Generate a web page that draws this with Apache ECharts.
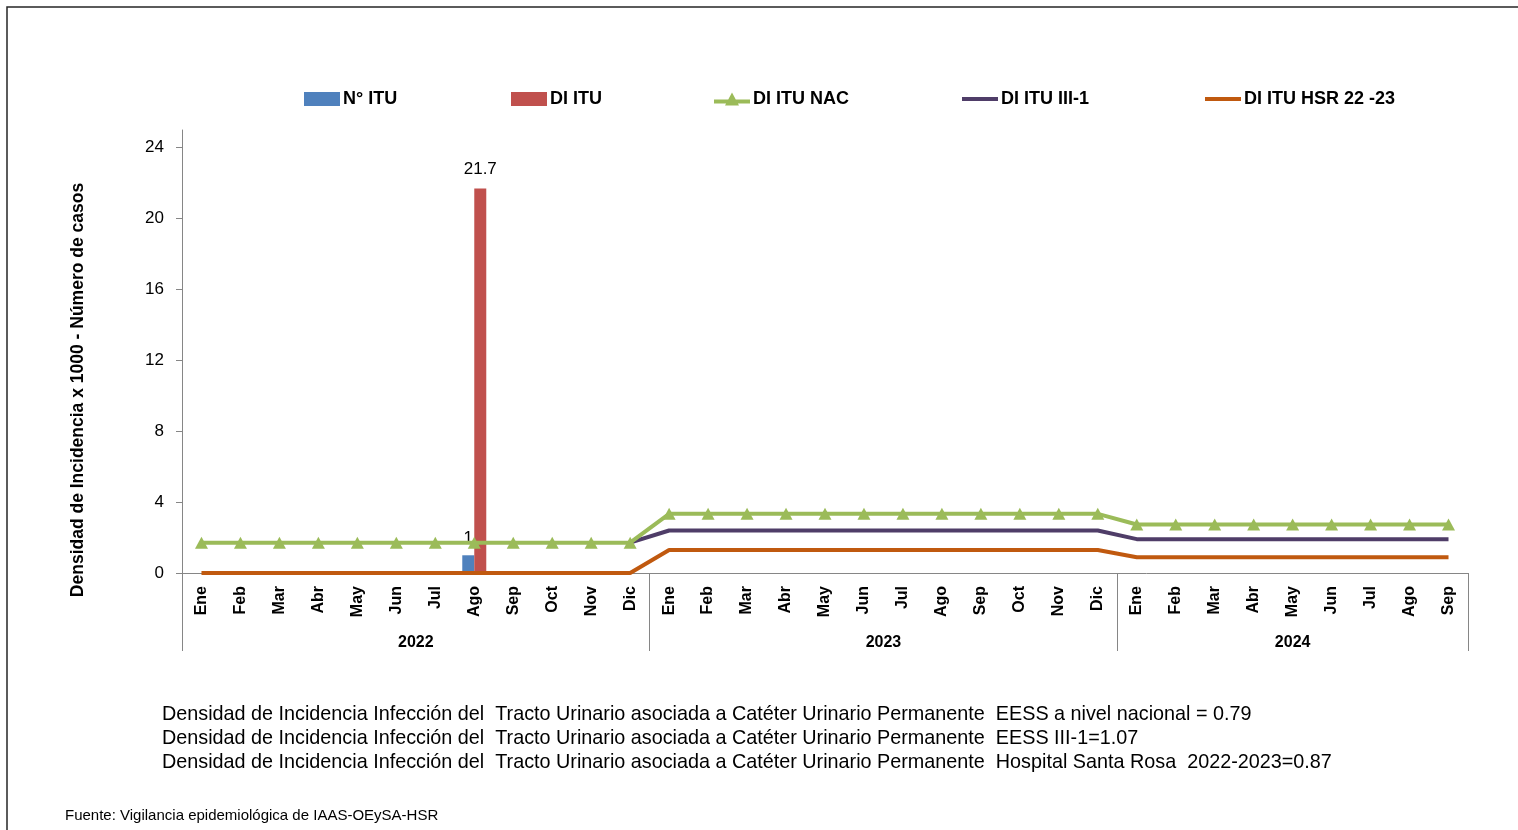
<!DOCTYPE html>
<html>
<head>
<meta charset="utf-8">
<script src="https://cdn.jsdelivr.net/npm/echarts@6/dist/echarts.min.js"></script>
<style>
  html, body { margin: 0; padding: 0; background: #fff; }
  #chart { width: 1518px; height: 830px; }
</style>
</head>
<body>
<div id="chart"></div>
<script>
// ---- data ----
const months2022 = ['Ene','Feb','Mar','Abr','May','Jun','Jul','Ago','Sep','Oct','Nov','Dic'];
const months2023 = ['Ene','Feb','Mar','Abr','May','Jun','Jul','Ago','Sep','Oct','Nov','Dic'];
const months2024 = ['Ene','Feb','Mar','Abr','May','Jun','Jul','Ago','Sep'];
const years = ['2022','2023','2024'];
const yTicks = [0, 4, 8, 12, 16, 20, 24];

const nItu = [0,0,0,0,0,0,0,1,0,0,0,0,  0,0,0,0,0,0,0,0,0,0,0,0,  0,0,0,0,0,0,0,0,0];
const diItu = [0,0,0,0,0,0,0,21.7,0,0,0,0,  0,0,0,0,0,0,0,0,0,0,0,0,  0,0,0,0,0,0,0,0,0];
const diItuNac = [1.71,1.71,1.71,1.71,1.71,1.71,1.71,1.71,1.71,1.71,1.71,1.71,
                  3.34,3.34,3.34,3.34,3.34,3.34,3.34,3.34,3.34,3.34,3.34,3.34,
                  2.74,2.74,2.74,2.74,2.74,2.74,2.74,2.74,2.74];
const diItuIII1 = [null,null,null,null,null,null,null,null,null,null,null,1.71,
                   2.40,2.40,2.40,2.40,2.40,2.40,2.40,2.40,2.40,2.40,2.40,2.40,
                   1.91,1.91,1.91,1.91,1.91,1.91,1.91,1.91,1.91];
const diItuHsr = [0,0,0,0,0,0,0,0,0,0,0,0,
                  1.30,1.30,1.30,1.30,1.30,1.30,1.30,1.30,1.30,1.30,1.30,1.30,
                  0.89,0.89,0.89,0.89,0.89,0.89,0.89,0.89,0.89];

const seriesNames = ['N° ITU', 'DI ITU', 'DI ITU NAC', 'DI ITU III-1', 'DI ITU HSR 22 -23'];

const notes = [
  'Densidad de Incidencia Infección del  Tracto Urinario asociada a Catéter Urinario Permanente  EESS a nivel nacional = 0.79',
  'Densidad de Incidencia Infección del  Tracto Urinario asociada a Catéter Urinario Permanente  EESS III-1=1.07',
  'Densidad de Incidencia Infección del  Tracto Urinario asociada a Catéter Urinario Permanente  Hospital Santa Rosa  2022-2023=0.87'
];
const source = 'Fuente: Vigilancia epidemiológica de IAAS-OEySA-HSR';

// ---- derived ----
const monthCats = [...months2022, ...months2023, ...months2024];
const yearLengths = [months2022.length, months2023.length, months2024.length];
const yearBounds = [0];
yearLengths.forEach((n, i) => yearBounds.push(yearBounds[i] + n));
const yearCenters = yearLengths.map((n, i) => yearBounds[i] + n / 2);

const FONT = "'Liberation Sans', Arial, sans-serif";
const axisColor = '#868686';
const C_BLUE = '#4F81BD', C_RED = '#C0504D', C_GREEN = '#9BBB59', C_PURPLE = '#4F3D68', C_ORANGE = '#C0590F';

const ICON_LINE = 'path://M0,0H36V4H0Z';
const ICON_LINE_TRI = 'path://M0,7H36V11H0Z M18,0L25,13L11,13Z';
const legendIcons = ['rect', 'rect', ICON_LINE_TRI, ICON_LINE, ICON_LINE];
const legendLefts = [299, 506, 709, 957, 1200];

const chart = echarts.init(document.getElementById('chart'), null, { renderer: 'canvas' });

const labelNonZero = (p) => (p.value ? String(p.value) : '');

chart.setOption({
  animation: false,
  backgroundColor: '#ffffff',
  textStyle: { fontFamily: FONT },
  grid: { left: 182, right: 50, top: 130, bottom: 257, containLabel: false },
  legend: seriesNames.map((n, i) => ({
    top: 85,
    left: legendLefts[i],
    itemWidth: 36,
    itemHeight: 14,
    data: [{ name: n, icon: legendIcons[i] }],
    textStyle: { fontFamily: FONT, fontSize: 18, fontWeight: 'bold', color: '#000', padding: [0, 0, 0, -2] }
  })),
  xAxis: [
    {
      type: 'category',
      data: monthCats,
      position: 'bottom',
      axisLine: { show: true, lineStyle: { color: axisColor, width: 1 } },
      axisTick: { show: false },
      axisLabel: {
        interval: 0, rotate: 90, margin: 13,
        fontFamily: FONT, fontSize: 16, fontWeight: 'bold', color: '#000'
      },
      splitLine: { show: false }
    },
    {
      type: 'value',
      min: 0,
      max: monthCats.length,
      position: 'bottom',
      axisLine: { show: false },
      axisTick: {
        show: true, length: 78, inside: false,
        customValues: yearBounds,
        lineStyle: { color: axisColor, width: 1 }
      },
      axisLabel: {
        show: true, margin: 62,
        customValues: yearCenters,
        formatter: (v) => years[yearCenters.indexOf(v)] || '',
        fontFamily: FONT, fontSize: 16, fontWeight: 'bold', color: '#000'
      },
      splitLine: { show: false }
    }
  ],
  yAxis: {
    type: 'value',
    min: 0,
    max: 25,
    name: 'Densidad de Incidencia x 1000 - Número de casos',
    nameLocation: 'middle',
    nameGap: 95,
    nameRotate: 90,
    nameTextStyle: { fontFamily: FONT, fontSize: 17.5, fontWeight: 'bold', color: '#000', padding: [0, 77, 0, 0] },
    axisLine: { show: true, lineStyle: { color: axisColor, width: 1 } },
    axisTick: { show: true, length: 6, customValues: yTicks, lineStyle: { color: axisColor } },
    axisLabel: { customValues: yTicks, margin: 18, fontFamily: FONT, fontSize: 17, color: '#000', padding: [3, 0, 0, 0] },
    splitLine: { show: false }
  },
  series: [
    {
      name: seriesNames[0], type: 'bar', data: nItu, barWidth: 12, barGap: '0%',
      itemStyle: { color: C_BLUE },
      label: { show: true, position: 'top', distance: 8, formatter: labelNonZero, fontSize: 17, color: '#000', fontFamily: FONT },
      z: 2
    },
    {
      name: seriesNames[1], type: 'bar', data: diItu, barWidth: 12, barGap: '0%',
      itemStyle: { color: C_RED },
      label: { show: true, position: 'top', distance: 11, formatter: labelNonZero, fontSize: 17, color: '#000', fontFamily: FONT },
      z: 2
    },
    {
      name: seriesNames[4], type: 'line', data: diItuHsr,
      symbol: 'none', lineStyle: { color: C_ORANGE, width: 4 }, itemStyle: { color: C_ORANGE },
      z: 3
    },
    {
      name: seriesNames[3], type: 'line', data: diItuIII1,
      symbol: 'none', lineStyle: { color: C_PURPLE, width: 4 }, itemStyle: { color: C_PURPLE },
      z: 4
    },
    {
      name: seriesNames[2], type: 'line', data: diItuNac,
      symbol: 'triangle', symbolSize: [13, 12],
      lineStyle: { color: C_GREEN, width: 4 }, itemStyle: { color: C_GREEN },
      z: 5
    }
  ],
  graphic: [
    {
      type: 'rect', silent: true, z: -10,
      shape: { x: 7, y: 7, width: 1560, height: 860 },
      style: { fill: 'none', stroke: '#262626', lineWidth: 1.5 }
    },
    ...notes.map((t, i) => ({
      type: 'text', silent: true,
      style: { text: t, x: 162, y: 715 + i * 24, verticalAlign: 'middle', fontFamily: FONT, fontSize: 19.8, fill: '#000' }
    })),
    {
      type: 'text', silent: true,
      style: { text: source, x: 65, y: 816, verticalAlign: 'middle', fontFamily: FONT, fontSize: 15, fill: '#000' }
    }
  ]
});
</script>
</body>
</html>
